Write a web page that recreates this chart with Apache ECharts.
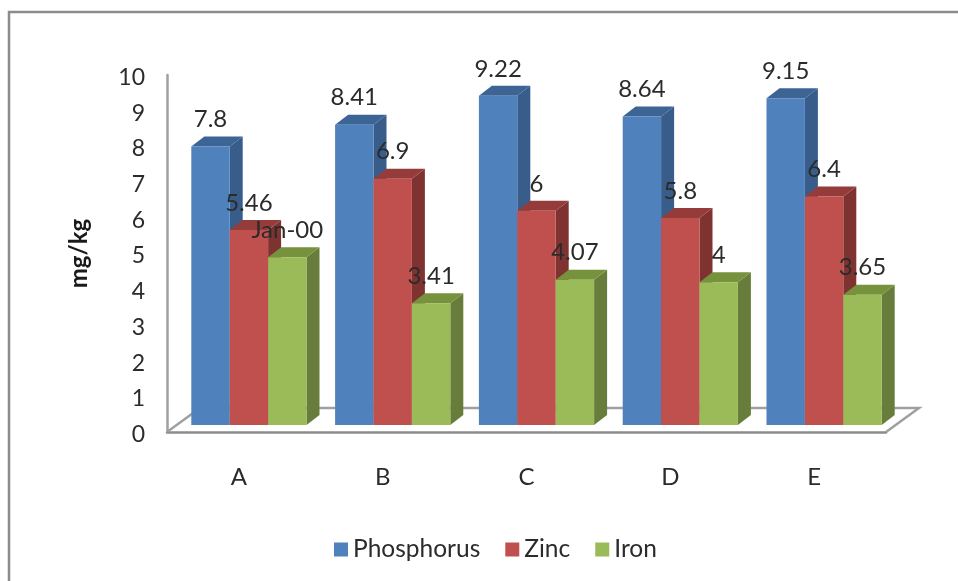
<!DOCTYPE html>
<html>

<head>
    <meta http-equiv="Content-Type" content="text/html; charset=utf-8" />
    <title>mg/kg</title>
    <style type="text/css">
        * {
            margin: 0;
            padding: 0;
        }

        html,
        body {
            width: 100%;
            height: 100%;
            background: #fff;
        }
    </style>
</head>

<body>
    <div id="main" style="width: 958px;height:581px;"></div>
    <script type="text/javascript" src="https://cdn.jsdelivr.net/npm/echarts@6/dist/echarts.min.js"></script>
    <script type="text/javascript">
        const categories = ['A', 'B', 'C', 'D', 'E'];
        const phosphorus = [7.8, 8.41, 9.22, 8.64, 9.15];
        const zinc = [5.46, 6.9, 6, 5.8, 6.4];
        const iron = [4.7, 3.41, 4.07, 4, 3.65];
        const phosphorusLabels = ['7.8', '8.41', '9.22', '8.64', '9.15'];
        const zincLabels = ['5.46', '6.9', '6', '5.8', '6.4'];
        const ironLabels = ['Jan-00', '3.41', '4.07', '4', '3.65'];

        const FONT = 'Lato';
        const TEXT = '#2b2b2b';

        // bars stand back from the front edge of the floor
        const SHIFT_X = 10, SHIFT_Y = -7;
        const BAR_W = 38.4;
        const DEPTH_X = 13, DEPTH_Y = -10;

        function barSeries(name, values, labels, index, colors) {
            return {
                type: 'custom',
                name: name,
                itemStyle: { color: colors.front },
                data: values.map((v, i) => [i, v, labels[i]]),
                renderItem: function (params, api) {
                    const base = api.coord([api.value(0), 0]);
                    const top = api.coord([api.value(0), api.value(1)]);
                    const x0 = base[0] + SHIFT_X + (index - 1.5) * BAR_W;
                    const x1 = x0 + BAR_W;
                    const y0 = base[1] + SHIFT_Y;
                    const y1 = top[1] + SHIFT_Y;
                    return {
                        type: 'group',
                        children: [
                            {
                                type: 'polygon',
                                shape: { points: [[x1, y1], [x1 + DEPTH_X, y1 + DEPTH_Y], [x1 + DEPTH_X, y0 + DEPTH_Y], [x1, y0]] },
                                style: { fill: colors.side }
                            },
                            {
                                type: 'polygon',
                                shape: { points: [[x0, y1], [x0 + DEPTH_X, y1 + DEPTH_Y], [x1 + DEPTH_X, y1 + DEPTH_Y], [x1, y1]] },
                                style: { fill: colors.top }
                            },
                            {
                                type: 'rect',
                                shape: { x: x0, y: y1, width: BAR_W, height: y0 - y1 },
                                style: { fill: colors.front }
                            },
                            {
                                type: 'text',
                                z2: 100,
                                style: {
                                    text: api.value(2),
                                    x: x0 + BAR_W / 2,
                                    y: y1 - 27,
                                    align: 'center',
                                    verticalAlign: 'middle',
                                    font: '24px ' + FONT,
                                    fill: TEXT
                                }
                            }
                        ]
                    };
                }
            };
        }

        // floor of the 3d box, sits behind the bars
        const floorSeries = {
            type: 'custom',
            silent: true,
            data: [[0, 0]],
            z: 1,
            renderItem: function (params, api) {
                const c = params.coordSys;
                const bottom = c.y + c.height;
                const right = c.x + c.width;
                return {
                    type: 'polyline',
                    shape: {
                        points: [
                            [c.x, bottom], [c.x + 33, bottom - 24], [right + 33, bottom - 24], [right, bottom]
                        ]
                    },
                    style: { fill: null, stroke: '#a0a0a0', lineWidth: 2.5 }
                };
            }
        };

        const myChart = echarts.init(document.getElementById('main'));
        myChart.setOption({
            animation: false,
            backgroundColor: '#fff',
            textStyle: { fontFamily: FONT },
            graphic: [{
                type: 'rect',
                shape: { x: 9, y: 12, width: 960, height: 580 },
                style: { fill: null, stroke: '#8c8c8c', lineWidth: 2.5 },
                silent: true,
                z: -1
            }],
            grid: { left: 167, top: 75, width: 719, height: 357 },
            legend: {
                data: ['Phosphorus', 'Zinc', 'Iron'],
                left: 329,
                top: 532,
                icon: 'rect',
                itemWidth: 14,
                itemHeight: 14,
                itemGap: 25,
                textStyle: { fontFamily: FONT, fontSize: 24.5, color: TEXT }
            },
            xAxis: {
                type: 'category',
                data: categories,
                axisTick: { show: false },
                axisLine: { lineStyle: { color: '#8c8c8c', width: 2.5 } },
                axisLabel: { margin: 33, fontSize: 24, color: TEXT, fontFamily: FONT }
            },
            yAxis: {
                type: 'value',
                min: 0,
                max: 10,
                interval: 1,
                name: 'mg/kg',
                nameLocation: 'middle',
                nameGap: 76,
                nameRotate: 90,
                nameTextStyle: { fontSize: 24, fontWeight: 'bold', color: '#1a1a1a', fontFamily: FONT },
                splitLine: { show: false },
                axisTick: { show: false },
                axisLine: { show: true, lineStyle: { color: '#a0a0a0', width: 2.5 } },
                axisLabel: {
                    margin: 22,
                    formatter: '{t|{value}}',
                    rich: {
                        // tick text sits a little under the tick position
                        t: { fontSize: 23, color: TEXT, fontFamily: FONT, padding: [5, 0, 0, 0] }
                    }
                }
            },
            series: [
                floorSeries,
                barSeries('Phosphorus', phosphorus, phosphorusLabels, 0, { front: '#4f81bd', top: '#3c6494', side: '#385d8a' }),
                barSeries('Zinc', zinc, zincLabels, 1, { front: '#c0504d', top: '#953c3a', side: '#7f3331' }),
                barSeries('Iron', iron, ironLabels, 2, { front: '#9bbb59', top: '#76923c', side: '#687d3b' })
            ]
        });
    </script>
</body>

</html>
